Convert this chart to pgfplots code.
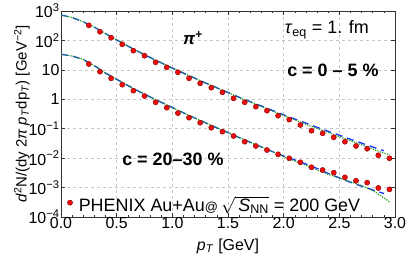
\documentclass[border=0pt]{standalone}
\usepackage{fontspec}
\setmainfont{Liberation Sans}
\usepackage{pgfplots}
\pgfplotsset{compat=1.18}
\definecolor{framegray}{gray}{0.2}
\definecolor{gridgray}{gray}{0.78}
\definecolor{ptred}{rgb}{0.93,0.05,0.05}
\definecolor{ptedge}{rgb}{0.55,0,0}
\definecolor{hblue}{rgb}{0.1,0.2,1}
\definecolor{hgreen}{rgb}{0.1,0.62,0.1}
\begin{document}
\begin{tikzpicture}
\useasboundingbox (0,0) rectangle (407bp,257bp);
\begin{axis}[
  at={(61bp,40bp)}, anchor=south west,
  scale only axis, width=334bp, height=206bp,
  ymode=log, xmin=0, xmax=3, ymin=1e-4, ymax=1e3,
  axis line style={framegray, line width=0.8pt},
  xtick={0,0.5,...,3}, minor x tick num=4,
  ytick={1e-4,1e-3,1e-2,1e-1,1,10,100,1000},
  yticklabels={10\textsuperscript{−4},10\textsuperscript{−3},10\textsuperscript{−2},10\textsuperscript{−1},1,10,10\textsuperscript{2},10\textsuperscript{3}},
  yminorticks=false,
  tick style={framegray, line width=0.5pt},
  major tick length=4pt, minor tick length=2pt,
  grid=major, major grid style={gridgray, dashed, line width=0.5pt},
  xticklabel style={yshift=3pt, /pgf/number format/.cd, fixed, fixed zerofill, precision=1, assume math mode=true},
  yticklabel style={xshift=2pt},
  ticklabel style={font=\fontsize{16}{16}\selectfont},
  xlabel={\textit{p}\textsubscript{\textit{T}} [GeV]},
  ylabel={\textit{d}\textsuperscript{2}N/(dy 2\textit{π} \textit{p}\textsubscript{\textit{T}}dp\textsubscript{\textit{T}}) [GeV\textsuperscript{−2}]},
  label style={font=\fontsize{15}{15}\selectfont},
  xlabel style={font=\fontsize{16}{16}\selectfont, yshift=-3pt},
  ylabel style={yshift=-8pt},
  legend style={at={(0.015,0.005)}, anchor=south west, draw=none, fill=none, font=\fontsize{18}{18}\selectfont, inner sep=1pt, legend cell align=left},
  legend image code/.code={\filldraw[fill=ptred, draw=ptedge, line width=0.4pt] (0.22cm,0.07cm) circle (2.6bp);},
  legend columns=1,
]
% upper (0-5%) blue dashed
\addplot[hblue, line width=1.3pt, dash pattern=on 7bp off 5bp, forget plot] coordinates {
(0.0,731)(0.1,603)(0.2,427)(0.3,282)(0.4,170)(0.5,105)(0.6,64.6)(0.7,40.7)(0.8,26.3)(0.9,17.4)
(1.0,11.5)(1.1,7.76)(1.2,5.25)(1.3,3.55)(1.4,2.45)(1.5,1.70)(1.6,1.175)(1.7,0.832)(1.8,0.589)(1.9,0.417)
(2.0,0.295)(2.1,0.214)(2.2,0.155)(2.3,0.112)(2.4,0.0813)(2.5,0.0603)(2.6,0.0437)(2.7,0.0324)(2.8,0.0240)(2.9,0.0178)};
% upper green dotted
\addplot[hgreen, line width=1.2pt, dash pattern=on 1.2bp off 1.3bp, forget plot] coordinates {
(0.0,731)(0.1,603)(0.2,427)(0.3,282)(0.4,170)(0.5,105)(0.6,64.6)(0.7,40.7)(0.8,26.3)(0.9,17.4)
(1.0,11.5)(1.1,7.76)(1.2,5.25)(1.3,3.55)(1.4,2.45)(1.5,1.70)(1.6,1.148)(1.7,0.813)(1.8,0.569)(1.9,0.398)
(2.0,0.282)(2.1,0.200)(2.2,0.141)(2.3,0.102)(2.4,0.0741)(2.5,0.0537)(2.6,0.0389)(2.7,0.0282)(2.8,0.0204)(2.9,0.0148)(2.95,0.0132)};
% lower (20-30%) blue dashed
\addplot[hblue, line width=1.3pt, dash pattern=on 7bp off 5bp, forget plot] coordinates {
(0.0,33.9)(0.1,29.5)(0.2,22.4)(0.3,13.8)(0.4,7.76)(0.5,4.79)(0.6,2.95)(0.7,1.86)(0.8,1.20)(0.9,0.794)
(1.0,0.525)(1.1,0.347)(1.2,0.234)(1.3,0.158)(1.4,0.107)(1.5,0.0741)(1.6,0.0501)(1.7,0.0347)(1.8,0.0240)(1.9,0.0166)
(2.0,0.0117)(2.1,0.00871)(2.2,0.00631)(2.3,0.00447)(2.4,0.00302)(2.5,0.00214)(2.6,0.00151)(2.7,0.00112)(2.8,0.000832)(2.9,0.000631)};
% lower green dotted
\addplot[hgreen, line width=1.2pt, dash pattern=on 1.2bp off 1.3bp, forget plot] coordinates {
(0.0,33.9)(0.1,29.5)(0.2,22.4)(0.3,13.8)(0.4,7.76)(0.5,4.79)(0.6,2.95)(0.7,1.86)(0.8,1.20)(0.9,0.794)
(1.0,0.525)(1.1,0.347)(1.2,0.234)(1.3,0.158)(1.4,0.107)(1.5,0.0741)(1.6,0.0501)(1.7,0.0347)(1.8,0.0240)(1.9,0.0166)
(2.0,0.0112)(2.1,0.00794)(2.2,0.00562)(2.3,0.00398)(2.4,0.00282)(2.5,0.00209)(2.6,0.00158)(2.7,0.00117)(2.8,0.000794)(2.9,0.000447)(2.95,0.000331)};
% PHENIX data upper
\addplot[only marks, mark=*, mark size=2.6bp, mark options={fill=ptred, draw=ptedge, line width=0.4pt}] coordinates {
(0.25,326)(0.35,198)(0.45,124)(0.55,73.8)(0.65,44.9)(0.75,30.3)(0.85,18.1)(0.95,12.2)(1.05,8.26)(1.15,5.16)
(1.25,3.49)(1.35,2.48)(1.45,1.73)(1.55,1.08)(1.65,0.791)(1.75,0.561)(1.85,0.410)(1.95,0.277)(2.05,0.204)(2.15,0.134)
(2.25,0.0857)(2.35,0.0698)(2.45,0.0511)(2.55,0.0362)(2.65,0.0259)(2.75,0.0209)(2.85,0.0125)(2.95,0.00989)};
\addlegendentry{\hspace{4pt}PHENIX Au+Au{\fontsize{13}{13}\selectfont @}\,$\sqrt{\mbox{\fontsize{18}{18}\selectfont\,\textit{S}\textsubscript{NN}}}$ = 200 GeV}
% PHENIX data lower
\addplot[only marks, mark=*, mark size=2.6bp, mark options={fill=ptred, draw=ptedge, line width=0.4pt}, forget plot] coordinates {
(0.25,15.8)(0.35,8.67)(0.45,5.16)(0.55,3.13)(0.65,1.96)(0.75,1.29)(0.85,0.791)(0.95,0.519)(1.05,0.339)(1.15,0.237)
(1.25,0.160)(1.35,0.108)(1.45,0.0793)(1.55,0.0566)(1.65,0.0362)(1.75,0.0259)(1.85,0.0189)(1.95,0.0135)(2.05,0.00989)(2.15,0.00723)
(2.25,0.00489)(2.35,0.00395)(2.45,0.00321)(2.55,0.00223)(2.65,0.00171)(2.75,0.00147)(2.85,0.00097)(2.95,0.00087)};
\node[font=\fontsize{17}{17}\selectfont\bfseries] at (rel axis cs:0.395,0.869) {\textit{π}\textsuperscript{+}};
\node[font=\fontsize{18}{18}\selectfont] at (rel axis cs:0.796,0.908) {\textit{τ}\textsubscript{eq} = 1. fm};
\node[font=\fontsize{18}{18}\selectfont\bfseries] at (rel axis cs:0.814,0.714) {c = 0 – 5 \%};
\node[font=\fontsize{18}{18}\selectfont\bfseries] at (rel axis cs:0.335,0.282) {c = 20–30 \%};
\end{axis}
\end{tikzpicture}
\end{document}
